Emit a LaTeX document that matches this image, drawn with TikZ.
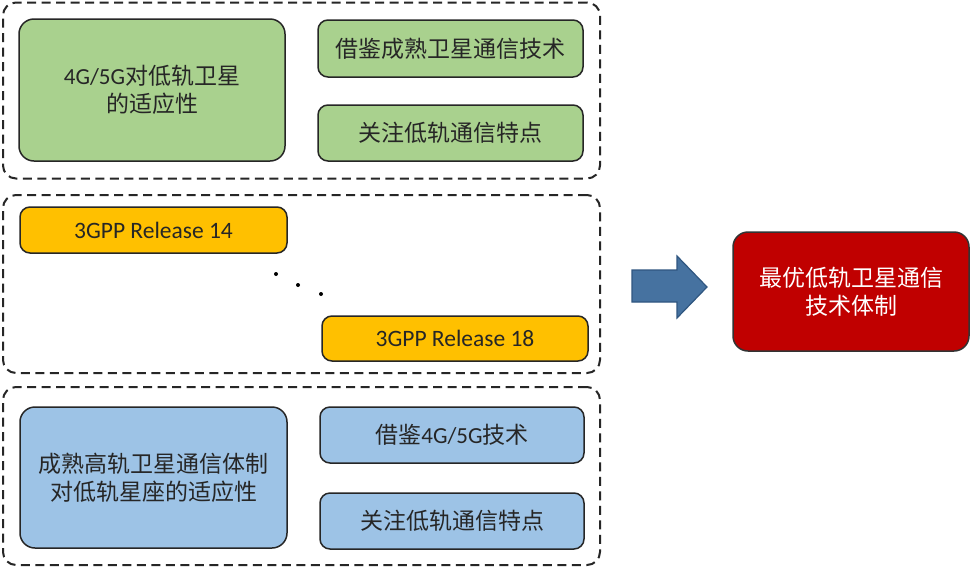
\documentclass[tikz,border=0pt]{standalone}
\usepackage{fontspec}
\setmainfont{Carlito}
\newfontfamily\cjk{Noto Sans CJK SC}
\definecolor{gfill}{HTML}{A9D18E}
\definecolor{bfill}{HTML}{9DC3E6}
\definecolor{yfill}{HTML}{FFC000}
\definecolor{rfill}{HTML}{C00000}
\definecolor{afill}{HTML}{4672A0}
\definecolor{aline}{HTML}{2F5680}
\definecolor{txt}{HTML}{262626}
\begin{document}
\begin{tikzpicture}[x=1pt,y=-1pt,
  grp/.style={draw=black!85, line width=2pt, dash pattern=on 9pt off 5.5pt, rounded corners=13pt, inner sep=0pt},
  box/.style={draw=black!85, line width=1.5pt, rounded corners=10pt, text=txt,
    font=\fontsize{23}{28}\selectfont\cjk, align=center, inner sep=0pt},
  bigbox/.style={box, rounded corners=15pt},
  dotnode/.style={circle, fill=black, inner sep=0pt, minimum size=4pt},
]
\useasboundingbox (0,0) rectangle (971,568);
\fill[white] (0,0) rectangle (971,568);

% group frames
\node[grp, minimum width=597pt, minimum height=176pt] (grp1) at (301.5,90.5) {};
\node[grp, minimum width=597pt, minimum height=178pt] (grp2) at (301.5,284) {};
\node[grp, minimum width=597pt, minimum height=178pt] (grp3) at (301.5,476) {};

% top group
\node[bigbox, fill=gfill, minimum width=266pt, minimum height=142pt] (g1) at (152,90)
  {{\rmfamily 4G/5G}对低轨卫星\\的适应性};
\node[box, fill=gfill, minimum width=265pt, minimum height=57pt] (g2) at (450.5,48.5)
  {借鉴成熟卫星通信技术};
\node[box, fill=gfill, minimum width=265pt, minimum height=56pt] (g3) at (450.5,133)
  {关注低轨通信特点};

% middle group
\node[box, fill=yfill, minimum width=267pt, minimum height=46pt, font=\fontsize{23.5}{28}\selectfont\rmfamily] (y14) at (153.5,230)
  {3GPP Release 14};
\node[box, fill=yfill, minimum width=266pt, minimum height=45pt, font=\fontsize{23.5}{28}\selectfont\rmfamily] (y18) at (455,338.5)
  {3GPP Release 18};
\node[dotnode] (d1) at (276,274) {};
\node[dotnode] (d2) at (298,285) {};
\node[dotnode] (d3) at (321,294) {};

% bottom group
\node[bigbox, fill=bfill, minimum width=267pt, minimum height=141pt] (b1) at (153.5,477.5)
  {成熟高轨卫星通信体制\\对低轨星座的适应性};
\node[box, fill=bfill, minimum width=264pt, minimum height=56pt] (b2) at (452,435)
  {借鉴{\rmfamily 4G/5G}技术};
\node[box, fill=bfill, minimum width=264pt, minimum height=56pt] (b3) at (452,521)
  {关注低轨通信特点};

% result
\node[bigbox, fill=rfill, draw=black!80, text=white, minimum width=236pt, minimum height=119pt] (res) at (851,291.5)
  {最优低轨卫星通信\\技术体制};

% big arrow
\draw[fill=afill, draw=aline, line width=1.2pt, line join=miter]
  (632,270) -- (677,270) -- (677,256) -- (707,287) -- (677,318) -- (677,302) -- (632,302) -- cycle;
\end{tikzpicture}
\end{document}
